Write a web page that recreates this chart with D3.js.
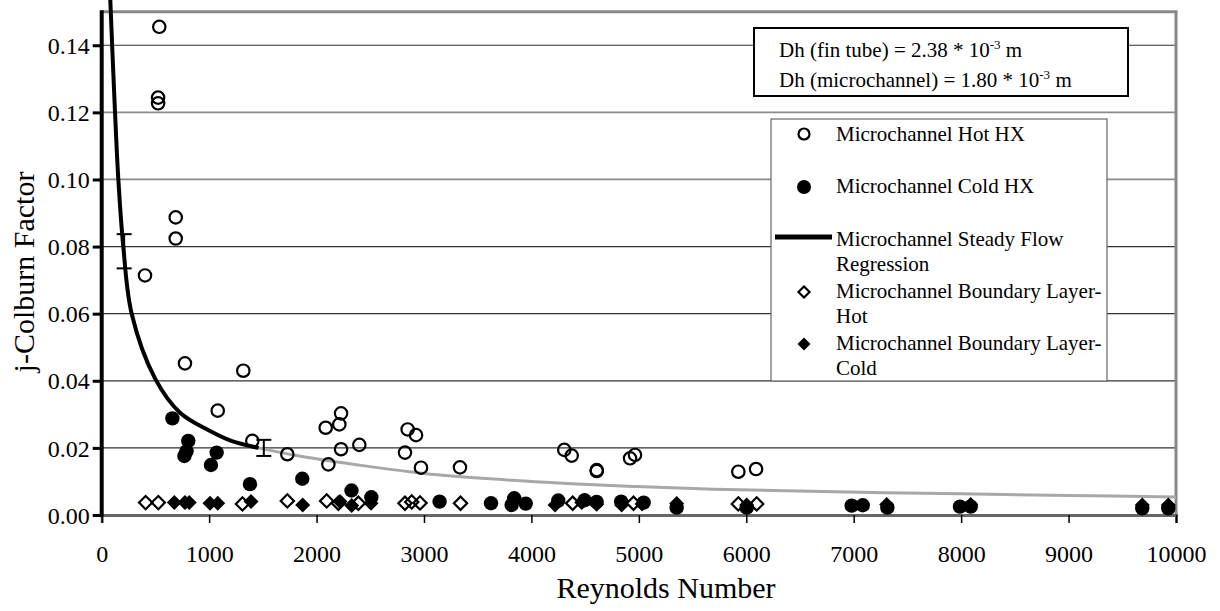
<!DOCTYPE html>
<html>
<head>
<meta charset="utf-8">
<script src="https://cdn.jsdelivr.net/npm/d3@7"></script>
<style>
  html, body { margin: 0; padding: 0; background: #fff; }
  svg { display: block; font-family: "Liberation Serif", "Times New Roman", serif; }
</style>
</head>
<body>
<svg id="chart" width="1220" height="611"></svg>
<script>
// Microchannel Hot HX (open circles)
const hotRe = [536, 525, 525, 689, 689, 403, 775, 1318, 1080, 1402, 1728, 2228, 2212, 2085, 2228, 2398, 2110,
               2848, 2926, 2823, 2972, 3335, 4306, 4375, 4608, 4608, 4918, 4964, 5926, 6091];
const hotJ  = [0.1455, 0.1244, 0.1227, 0.0887, 0.0824, 0.0714, 0.0452, 0.0430, 0.0311, 0.0221, 0.0181, 0.0303,
               0.0270, 0.0260, 0.0196, 0.0209, 0.0151, 0.0255, 0.0238, 0.0186, 0.0141, 0.0142, 0.0194, 0.0177,
               0.0134, 0.0131, 0.0169, 0.0179, 0.0129, 0.0137];

// Microchannel Cold HX (filled circles)
const coldRe = [658, 770, 790, 806, 1017, 1070, 1380, 1867, 2325, 2510, 3145, 3624, 3816, 3840, 3947, 4250,
                4495, 4607, 4835, 5045, 5352, 6004, 6981, 7084, 7313, 7989, 8089, 9686, 9928];
const coldJ  = [0.0288, 0.0176, 0.0190, 0.0221, 0.0149, 0.0186, 0.0092, 0.0108, 0.0073, 0.0053, 0.0040, 0.0035,
                0.0030, 0.0050, 0.0034, 0.0043, 0.0044, 0.0039, 0.0040, 0.0037, 0.0022, 0.0022, 0.0028, 0.0029,
                0.0022, 0.0025, 0.0025, 0.0020, 0.0020];

// Microchannel Boundary Layer - Hot (open diamonds)
const blHotRe = [409, 527, 1310, 1728, 2094, 2203, 2389, 2823, 2886, 2963, 3340, 4384, 4950, 5926, 6097];
const blHotJ  = [0.0037, 0.0037, 0.0033, 0.0042, 0.0042, 0.0035, 0.0035, 0.0035, 0.0039, 0.0036, 0.0035,
                 0.0035, 0.0035, 0.0033, 0.0033];

// Microchannel Boundary Layer - Cold (filled diamonds)
const blColdRe = [676, 775, 815, 1008, 1080, 1390, 1871, 2218, 2327, 2507, 4220, 4468, 4607, 4840, 5030,
                  5352, 6004, 7307, 8089, 9686, 9928];
const blColdJ  = [0.0037, 0.0037, 0.0037, 0.0035, 0.0035, 0.0040, 0.0030, 0.0040, 0.0028, 0.0035, 0.0030,
                  0.0037, 0.0032, 0.0030, 0.0033, 0.0034, 0.0030, 0.0031, 0.0031, 0.0030, 0.0030];

// Steady flow regression, measured range (black) and extension (grey)
const regRe = [80, 124, 155, 201, 279, 500, 729, 1000, 1200, 1460];
const regJ  = [0.1535, 0.120, 0.100, 0.080, 0.060, 0.0405, 0.0305, 0.0252, 0.0222, 0.0200];
const extRe = [1460, 1800, 2370, 3000, 3750, 4330, 4950, 5700, 6830, 8000, 9000, 10000];
const extJ  = [0.0200, 0.0178, 0.0150, 0.0124, 0.0105, 0.0094, 0.0085, 0.0077, 0.0069, 0.0063, 0.0058, 0.0054];

// Uncertainty bars on the regression
const errRe   = [209, 1509];
const errLow  = [0.0735, 0.0176];
const errHigh = [0.0837, 0.0224];

const xTicks = [0, 1000, 2000, 3000, 4000, 5000, 6000, 7000, 8000, 9000, 10000];
const yTicks = [0.00, 0.02, 0.04, 0.06, 0.08, 0.10, 0.12, 0.14];

const legendLabels = [
  ["Microchannel Hot HX"],
  ["Microchannel Cold HX"],
  ["Microchannel Steady Flow", "Regression"],
  ["Microchannel Boundary Layer-", "Hot"],
  ["Microchannel Boundary Layer-", "Cold"]
];

const svg = d3.select("#chart");
const x = d3.scaleLinear().domain([0, 10000]).range([101.7, 1176]);
const y = d3.scaleLinear().domain([0, 0.15]).range([515, 11.7]);

// horizontal gridlines
svg.append("g").selectAll("line").data(yTicks.filter(d => d > 0)).join("line")
  .attr("x1", x(0)).attr("x2", x(10000))
  .attr("y1", d => y(d)).attr("y2", d => y(d))
  .attr("stroke", d => (d > 0.09 && d < 0.13) ? "#8a8a8a" : "#333")
  .attr("stroke-width", d => (d > 0.09 && d < 0.13) ? 1.8 : 1.2);

// plot frame: top and right in grey
svg.append("line").attr("x1", x(0)).attr("x2", x(10000) + 1.5).attr("y1", y(0.15)).attr("y2", y(0.15))
  .attr("stroke", "#888").attr("stroke-width", 3);
svg.append("line").attr("x1", x(10000)).attr("x2", x(10000)).attr("y1", y(0.15)).attr("y2", y(0))
  .attr("stroke", "#888").attr("stroke-width", 3);

// x axis
const xAxis = svg.append("g").attr("transform", `translate(0,${y(0)})`)
  .call(d3.axisBottom(x).tickValues(xTicks).tickFormat(d3.format("d")).tickSize(8).tickPadding(22));
xAxis.select(".domain").attr("stroke", "#666").attr("stroke-width", 3);
xAxis.selectAll(".tick line").attr("stroke", "#000").attr("stroke-width", 1.5);
xAxis.selectAll(".tick text").attr("font-size", 24).attr("font-family", "Liberation Serif").attr("fill", "#000");

// y axis
const yAxis = svg.append("g").attr("transform", `translate(${x(0)},0)`)
  .call(d3.axisLeft(y).tickValues(yTicks).tickFormat(d3.format(".2f")).tickSize(9).tickPadding(3));
yAxis.select(".domain").remove();
yAxis.selectAll(".tick line").attr("stroke", "#000").attr("stroke-width", 3);
yAxis.selectAll(".tick text").attr("font-size", 24).attr("font-family", "Liberation Serif").attr("fill", "#000")
  .attr("dy", "0.34em");
svg.append("line").attr("x1", x(0)).attr("x2", x(0)).attr("y1", y(0.15) - 1.5).attr("y2", y(0) + 2)
  .attr("stroke", "#000").attr("stroke-width", 4);

// axis titles
svg.append("text").attr("x", 666).attr("y", 598).attr("text-anchor", "middle")
  .attr("font-size", 30).text("Reynolds Number");
svg.append("text").attr("transform", "translate(34,272) rotate(-90)").attr("text-anchor", "middle")
  .attr("font-size", 30).text("j-Colburn Factor");

// regression curves
const line = d3.line().x(d => x(d[0])).y(d => y(d[1])).curve(d3.curveCatmullRom.alpha(0.5));
svg.append("path").datum(d3.zip(extRe, extJ)).attr("d", line)
  .attr("fill", "none").attr("stroke", "#a8a8a8").attr("stroke-width", 3);
svg.append("path").datum(d3.zip(regRe, regJ)).attr("d", line)
  .attr("fill", "none").attr("stroke", "#000").attr("stroke-width", 4);

// error bars
const eb = svg.append("g").attr("stroke", "#000").attr("stroke-width", 2);
errRe.forEach((r, i) => {
  eb.append("line").attr("x1", x(r)).attr("x2", x(r)).attr("y1", y(errLow[i])).attr("y2", y(errHigh[i]));
  [errLow[i], errHigh[i]].forEach(v => {
    eb.append("line").attr("x1", x(r) - 7.5).attr("x2", x(r) + 7.5).attr("y1", y(v)).attr("y2", y(v));
  });
});

// markers
const diamond = d3.symbol().type(d3.symbolSquare);
function drawSeries(re, jv, kind) {
  const g = svg.append("g");
  const pts = d3.zip(re, jv);
  if (kind === "openCircle") {
    g.selectAll("circle").data(pts).join("circle")
      .attr("cx", d => x(d[0])).attr("cy", d => y(d[1])).attr("r", 6.2)
      .attr("fill", "none").attr("stroke", "#000").attr("stroke-width", 2.2);
  } else if (kind === "filledCircle") {
    g.selectAll("circle").data(pts).join("circle")
      .attr("cx", d => x(d[0])).attr("cy", d => y(d[1])).attr("r", 7.2).attr("fill", "#000");
  } else if (kind === "openDiamond") {
    g.selectAll("path").data(pts).join("path")
      .attr("d", diamond.size(88)())
      .attr("transform", d => `translate(${x(d[0])},${y(d[1])}) rotate(45)`)
      .attr("fill", "none").attr("stroke", "#000").attr("stroke-width", 2.2);
  } else {
    g.selectAll("path").data(pts).join("path")
      .attr("d", diamond.size(112)())
      .attr("transform", d => `translate(${x(d[0])},${y(d[1])}) rotate(45)`)
      .attr("fill", "#000");
  }
}
drawSeries(hotRe, hotJ, "openCircle");
drawSeries(coldRe, coldJ, "filledCircle");
drawSeries(blHotRe, blHotJ, "openDiamond");
drawSeries(blColdRe, blColdJ, "filledDiamond");

// hydraulic diameter note
const note = svg.append("g");
note.append("rect").attr("x", 754).attr("y", 28).attr("width", 374).attr("height", 68)
  .attr("fill", "#fff").attr("stroke", "#000").attr("stroke-width", 2);
function noteLine(yb, pre) {
  const t = note.append("text").attr("x", 779).attr("y", yb).attr("font-size", 21);
  t.append("tspan").text(pre + " * 10");
  t.append("tspan").attr("font-size", 13).attr("dy", -8).text("-3");
  t.append("tspan").attr("dy", 8).text(" m");
}
noteLine(57, "Dh (fin tube) = 2.38");
noteLine(87, "Dh (microchannel) = 1.80");

// legend
const lg = svg.append("g");
lg.append("rect").attr("x", 771).attr("y", 119).attr("width", 336).attr("height", 262)
  .attr("fill", "#fff").attr("stroke", "#666").attr("stroke-width", 1.2);
const mx = 804, tx = 836;
const markerY = [134, 187, 237, 292, 344];
const textY = [141, 193, 246, 298, 350];
lg.append("circle").attr("cx", mx).attr("cy", markerY[0]).attr("r", 5.5)
  .attr("fill", "none").attr("stroke", "#000").attr("stroke-width", 2.2);
lg.append("circle").attr("cx", mx).attr("cy", markerY[1]).attr("r", 7).attr("fill", "#000");
lg.append("line").attr("x1", 775).attr("x2", 832).attr("y1", markerY[2]).attr("y2", markerY[2])
  .attr("stroke", "#000").attr("stroke-width", 5);
lg.append("path").attr("d", diamond.size(62)())
  .attr("transform", `translate(${mx},${markerY[3]}) rotate(45)`)
  .attr("fill", "none").attr("stroke", "#000").attr("stroke-width", 2.2);
lg.append("path").attr("d", diamond.size(84)())
  .attr("transform", `translate(${mx},${markerY[4]}) rotate(45)`).attr("fill", "#000");
legendLabels.forEach((lines, i) => {
  const t = lg.append("text").attr("x", tx).attr("y", textY[i]).attr("font-size", 21);
  lines.forEach((s, k) => t.append("tspan").attr("x", tx).attr("dy", k === 0 ? 0 : 25).text(s));
});
</script>
</body>
</html>
